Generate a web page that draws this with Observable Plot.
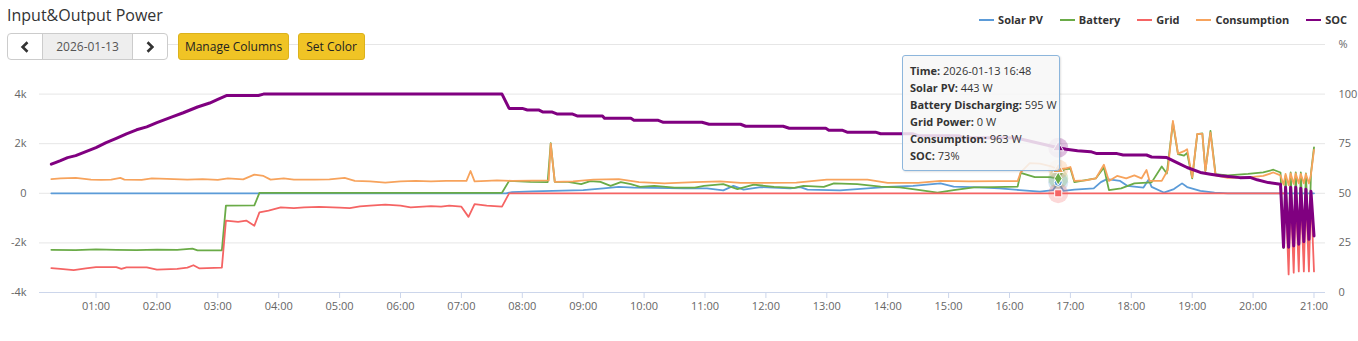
<!DOCTYPE html>
<html>
<head>
<meta charset="utf-8">
<script src="https://cdn.jsdelivr.net/npm/d3@7"></script>
<script src="https://cdn.jsdelivr.net/npm/@observablehq/plot@0.6"></script>
<style>
html,body{margin:0;padding:0;background:#fff;}
body{width:1358px;height:341px;overflow:hidden;font-family:"Open Sans",sans-serif;}
#wrap{position:relative;width:1358px;height:341px;}
#chart{position:absolute;left:0;top:0;}
#title{position:absolute;left:7px;top:5px;font-size:16px;line-height:20px;color:#333;white-space:nowrap;}
#datebox{position:absolute;left:7px;top:33px;width:159px;height:25px;border:1px solid #ccc;border-radius:4px;background:#fff;display:flex;overflow:hidden;}
#datebox .nav{width:34px;display:flex;align-items:center;justify-content:center;}
#datebox .mid{flex:1;background:#eee;border-left:1px solid #ccc;border-right:1px solid #ccc;display:flex;align-items:center;justify-content:center;font-size:12px;color:#555;}
.btn{position:absolute;top:33px;height:25px;border:1px solid #dcb21c;border-radius:3px;background:#f0c425;display:flex;align-items:center;justify-content:center;font-size:12px;color:#222;white-space:nowrap;}
#legend{position:absolute;right:11px;top:12px;display:flex;gap:17px;align-items:center;}
#legend .item{display:flex;align-items:center;font-size:11px;font-weight:700;color:#333;line-height:16px;}
#legend .sym{width:15px;height:2px;margin-right:4px;}
#tooltip{position:absolute;left:902px;top:55px;width:142px;height:101px;padding:6px 7px 7px 7px;background:rgba(247,247,247,0.85);border:1px solid #8db6dc;border-radius:3px;box-shadow:1px 1px 2px rgba(0,0,0,0.12);font-size:11px;color:#333;line-height:17px;white-space:nowrap;}
#tooltip b{font-weight:700;}
</style>
</head>
<body>
<div id="wrap">
  <div id="chart"></div>
  <div id="title">Input&amp;Output Power</div>
  <div id="datebox">
    <div class="nav"><svg width="10" height="12"><path d="M7.5 1.2 L2.6 6 L7.5 10.8" stroke="#333" stroke-width="2.6" fill="none"/></svg></div>
    <div class="mid" id="datelabel"></div>
    <div class="nav"><svg width="10" height="12"><path d="M2.5 1.2 L7.4 6 L2.5 10.8" stroke="#333" stroke-width="2.6" fill="none"/></svg></div>
  </div>
  <div class="btn" style="left:178px;width:109px;">Manage Columns</div>
  <div class="btn" style="left:298px;width:65px;">Set Color</div>
  <div id="legend"></div>
  <div id="tooltip"></div>
</div>
<script>
// ---------- data ----------
const dateLabel = "2026-01-13";
const seriesNames = ["Solar PV", "Battery", "Grid", "Consumption", "SOC"];
const seriesColors = ["#5b9bd8", "#6aab47", "#f56464", "#f7a35c", "#800080"];

const solarTimes = ["00:16","07:44","07:50","08:10","08:40","09:00","09:20","09:35","09:50","10:10","10:40","11:02","11:18","11:28","11:38","11:55","12:24","12:34","12:41","13:13","13:40","14:00","14:25","14:52","15:05","15:30","15:50","16:10","16:30","16:43","16:48","16:53","17:04","17:23","17:30","17:36","17:49","17:56","18:12","18:17","18:20","18:32","18:42","18:50","18:55","19:08","19:22","19:35","21:00"];
const solarW = [0,0,50,80,110,130,200,260,230,220,200,200,120,300,150,250,200,250,150,120,200,260,300,400,270,240,200,130,70,130,443,100,150,200,450,570,500,300,230,550,260,30,170,400,250,100,30,0,0];

const batteryTimes = ["00:16","00:40","01:00","01:20","01:40","02:00","02:20","02:35","02:40","03:04","03:08","03:36","03:41","07:40","07:47","08:08","08:25","08:28","08:32","08:45","08:58","09:07","09:17","09:27","09:37","09:47","09:56","10:10","10:30","10:50","10:59","11:18","11:32","11:48","12:08","12:28","12:37","12:57","13:07","13:30","13:53","14:12","14:32","14:49","15:05","15:25","15:45","16:08","16:11","16:25","16:40","16:48","16:54","17:00","17:04","17:25","17:33","17:38","17:50","18:03","18:20","18:30","18:35","18:41","18:46","18:52","18:55","19:00","19:05","19:10","19:13","19:18","19:23","19:35","19:55","20:10","20:20","20:27","20:30","20:32","20:35","20:37","20:40","20:42","20:45","20:47","20:50","20:52","20:55","20:57","21:00"];
const batteryW = [-2280,-2290,-2260,-2280,-2290,-2270,-2280,-2230,-2300,-2300,-500,-490,20,20,500,460,450,2020,460,460,370,490,460,300,450,370,260,300,230,230,300,370,170,350,260,220,300,260,400,370,270,240,130,30,130,240,250,270,820,650,650,595,970,1000,450,600,1040,130,200,400,440,1080,800,2850,1580,1520,1630,600,2390,2420,900,2520,770,720,780,840,950,840,-2200,700,-2200,840,-2200,840,-2200,840,-2200,800,-2200,800,1850];

const gridTimes = ["00:16","00:25","00:38","00:50","01:00","01:20","01:25","01:30","01:50","02:00","02:20","02:30","02:36","02:42","03:04","03:08","03:20","03:28","03:36","03:41","03:50","04:02","04:15","04:25","04:40","05:00","05:10","05:20","05:30","05:45","06:00","06:10","06:30","06:40","06:48","07:00","07:07","07:13","07:25","07:40","07:47","20:30","20:32","20:35","20:37","20:40","20:42","20:45","20:47","20:50","20:52","20:55","20:57","21:00"];
const gridW = [-3020,-3050,-3100,-3030,-2980,-2980,-3050,-2990,-2990,-3080,-3050,-3000,-2900,-3030,-3000,-1100,-1150,-1100,-1310,-770,-700,-570,-600,-570,-550,-580,-600,-530,-500,-460,-500,-570,-520,-540,-500,-540,-950,-440,-500,-540,0,0,0,-3270,0,-3200,0,-3150,0,-3150,0,-3150,0,-3150];

const consumptionTimes = ["00:16","00:25","00:40","00:55","01:05","01:15","01:24","01:28","01:45","01:55","02:10","02:30","02:45","03:00","03:10","03:25","03:36","03:45","03:52","04:05","04:15","04:35","04:50","05:05","05:15","05:30","05:45","06:00","06:15","06:30","06:45","07:05","07:09","07:13","07:25","07:35","07:50","08:10","08:26","08:28","08:32","08:50","09:10","09:35","09:55","10:20","10:50","11:15","11:35","12:00","12:30","13:00","13:40","14:00","14:30","14:52","15:20","15:50","16:08","16:11","16:20","16:30","16:40","16:48","16:55","17:00","17:04","17:15","17:25","17:33","17:38","17:46","17:55","18:03","18:10","18:15","18:18","18:30","18:36","18:41","18:46","18:52","18:55","19:00","19:05","19:10","19:13","19:18","19:23","19:35","19:55","20:10","20:20","20:27","20:30","20:32","20:35","20:37","20:40","20:42","20:45","20:47","20:50","20:52","20:55","20:57","21:00"];
const consumptionW = [570,600,620,550,540,550,620,550,540,600,580,550,570,540,600,560,750,700,550,600,550,550,560,620,500,480,430,480,500,480,500,500,900,480,500,520,500,510,520,2000,460,480,550,570,450,400,450,480,420,420,430,550,550,420,420,500,480,490,490,840,1220,1200,1100,963,1000,1060,500,520,600,1150,500,700,600,720,600,940,500,500,940,2920,1600,1700,1780,640,2400,2400,900,2450,720,620,640,700,840,720,350,780,330,800,380,800,400,780,400,780,400,760,1750];

const socTimes = ["00:16","00:20","00:25","00:32","00:40","00:50","01:00","01:10","01:20","01:30","01:40","01:50","02:00","02:15","02:26","02:40","02:52","03:00","03:09","03:40","03:45","07:40","07:47","08:00","08:05","08:16","08:20","08:29","08:34","08:49","08:54","09:19","09:21","09:47","09:50","10:14","10:19","10:57","11:04","11:35","11:40","12:17","12:23","12:59","13:02","13:15","13:20","13:48","13:53","14:25","14:30","15:10","15:15","16:05","16:10","16:48","16:56","17:07","17:20","17:26","17:46","17:52","18:15","18:20","18:35","18:45","18:55","19:08","19:18","19:28","19:47","19:57","20:04","20:15","20:27","20:30","20:32","20:35","20:37","20:40","20:42","20:45","20:47","20:50","20:52","20:55","20:57","21:00"];
const socPct = [64.7,65.5,66.5,68,69,71,73,75.5,77.7,80,82,83.5,85.6,88.5,90.6,93.5,95.5,97.3,99.3,99.3,100,100,92.8,92.8,92,92,91,91,90,90,89,89,87.8,87.8,86.8,86.8,85.8,85.8,84.8,84.8,83.8,83.8,82.8,82.8,81.8,81.8,80.8,80.8,80,80,79,79,78,78,77.5,73,72.2,71.5,71,70,70,69.3,69.3,68.3,68,65.5,63,60.5,59.6,58.8,57.9,58,56.8,55.4,54.6,22.8,53,22.8,53,23.5,53,24.3,52.5,25.6,52,26.8,51,28.5];

// hovered point and tooltip
const hoverTime = "16:48";
const hoverValues = [443, 595, 0, 963, 73];
const tooltipLabels = ["Time", "Solar PV", "Battery Discharging", "Grid Power", "Consumption", "SOC"];
const tooltipUnits = [" W", " W", " W", " W", "%"];

// axes
const xDomain = ["00:04:20", "21:11:20"];
const hourLabels = ["01:00","02:00","03:00","04:00","05:00","06:00","07:00","08:00","09:00","10:00","11:00","12:00","13:00","14:00","15:00","16:00","17:00","18:00","19:00","20:00","21:00"];
const yTicks = [-4000, -2000, 0, 2000, 4000, 6000];
const yLeftLabels = ["-4k", "-2k", "0", "2k", "4k", ""];
const yRightLabels = ["0", "25", "50", "75", "100", "%"];
const socRange = [0, 100];        // maps onto -4000 .. 4000 of left axis

// ---------- build ----------
const day = s => { const [h, m, sec = 0] = s.split(":").map(Number); return new Date(Date.UTC(2026, 0, 13, h, m, sec)); };
const socToW = p => -4000 + (p - socRange[0]) / (socRange[1] - socRange[0]) * 8000;
const rows = (times, vals, f = v => v) => times.map((t, i) => ({date: day(t), value: f(vals[i])}));

const series = [
  rows(solarTimes, solarW),
  rows(batteryTimes, batteryW),
  rows(gridTimes, gridW),
  rows(consumptionTimes, consumptionW),
  rows(socTimes, socPct, socToW)
];

const hoverPts = hoverValues.map((v, i) => ({date: day(hoverTime), value: i === 4 ? socToW(v) : v, color: seriesColors[i]}));
const symbols = ["circle", "diamond", "square", "triangle", "triangle"];

const leftFmt = d => yLeftLabels[yTicks.indexOf(d)];
const rightFmt = d => yRightLabels[yTicks.indexOf(d)];

const chart = Plot.plot({
  width: 1358,
  height: 341,
  marginTop: 44,
  marginBottom: 49,
  marginLeft: 39,
  marginRight: 33,
  style: {fontFamily: "'Open Sans', sans-serif", fontSize: "11px", color: "#666", background: "transparent"},
  x: {type: "utc", domain: xDomain.map(day)},
  y: {domain: [yTicks[0], yTicks[yTicks.length - 1]]},
  marks: [
    Plot.gridY(yTicks, {stroke: "#e6e6e6", strokeOpacity: 1}),
    Plot.ruleY([yTicks[0]], {stroke: "#ccd6eb"}),
    Plot.axisY(yTicks, {anchor: "left", tickSize: 0, tickPadding: 13, tickFormat: leftFmt, label: null}),
    Plot.axisY(yTicks, {anchor: "right", tickSize: 0, tickPadding: 13, tickFormat: rightFmt, label: null, textAnchor: "start"}),
    Plot.axisX(hourLabels.map(day), {tickSize: 6, tickPadding: 4, stroke: "#ccd6eb", tickFormat: d3.utcFormat("%H:%M"), label: null}),
    ...series.map((data, i) => Plot.line(data, {
      x: "date", y: "value", stroke: seriesColors[i],
      strokeWidth: i === 4 ? 3 : 1.8, strokeLinejoin: "round"
    })),
    Plot.dot(hoverPts, {x: "date", y: "value", r: 10, fill: "color", fillOpacity: 0.25, stroke: null}),
    ...hoverPts.map((p, i) => Plot.dot([p], {x: "date", y: "value", r: 4, fill: "color", stroke: "#fff", strokeWidth: 1, symbol: () => symbols[i]}))
  ]
});
document.getElementById("chart").appendChild(chart);

// header widgets
document.getElementById("datelabel").textContent = dateLabel;
const legend = document.getElementById("legend");
seriesNames.forEach((name, i) => {
  const it = document.createElement("div");
  it.className = "item";
  const sym = document.createElement("span");
  sym.className = "sym";
  sym.style.background = seriesColors[i];
  it.appendChild(sym);
  it.appendChild(document.createTextNode(name));
  legend.appendChild(it);
});

// tooltip
const tip = document.getElementById("tooltip");
const tipValues = [dateLabel + " " + hoverTime, ...hoverValues.map((v, i) => v + tooltipUnits[i])];
tooltipLabels.forEach((lab, i) => {
  const line = document.createElement("div");
  const b = document.createElement("b");
  b.textContent = lab + ":";
  line.appendChild(b);
  line.appendChild(document.createTextNode(" " + tipValues[i]));
  tip.appendChild(line);
});
</script>
</body>
</html>
